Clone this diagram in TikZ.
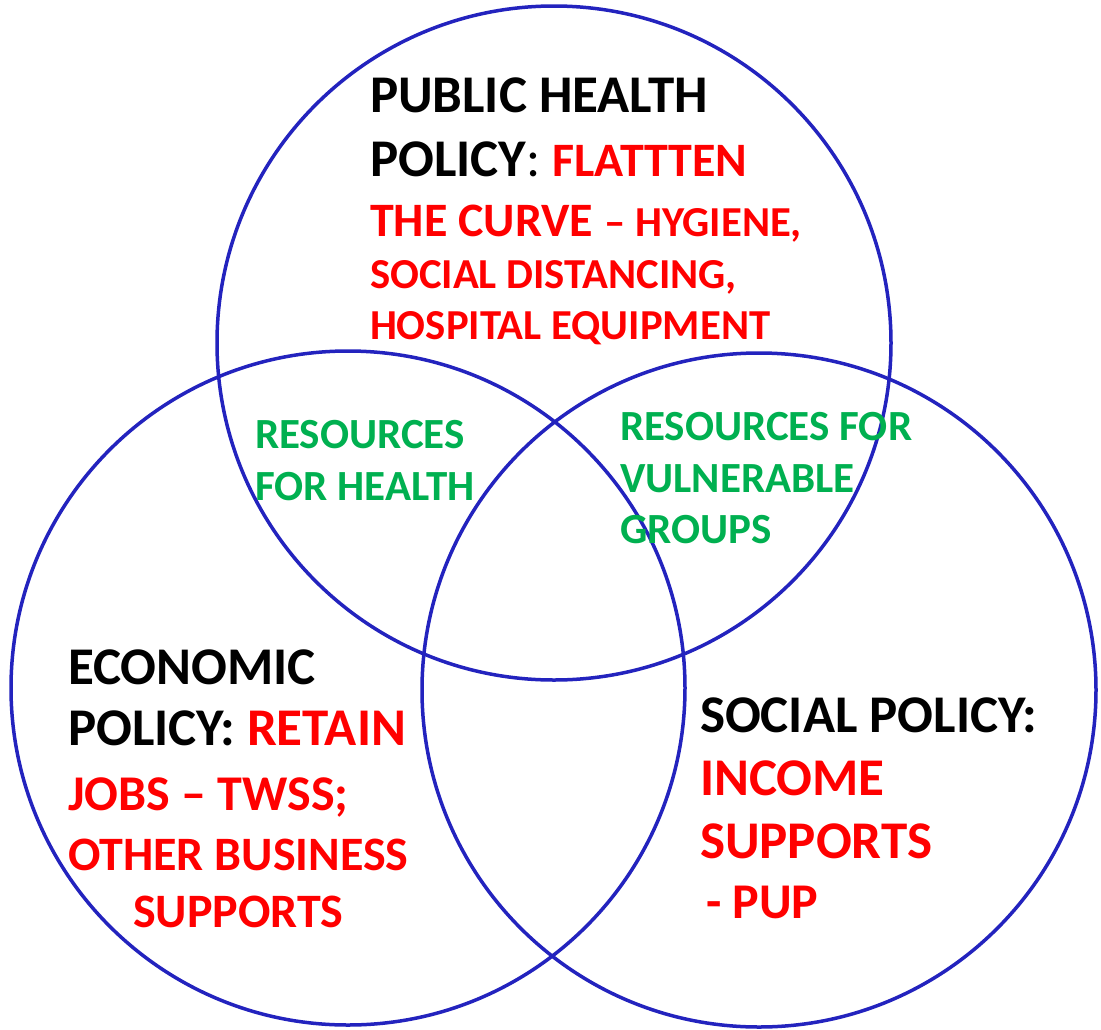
\documentclass[tikz,border=0pt]{standalone}
\usepackage{fontspec}
\setmainfont{Carlito}
\definecolor{vblue}{RGB}{35,35,190}
\definecolor{vred}{RGB}{255,0,0}
\definecolor{vgreen}{RGB}{0,176,80}
\newcommand{\fBig}{\fontsize{53pt}{60pt}\selectfont\bfseries}
\newcommand{\fMid}{\fontsize{48pt}{56pt}\selectfont\bfseries}
\newcommand{\fJob}{\fontsize{50pt}{56pt}\selectfont\bfseries}
\newcommand{\fSml}{\fontsize{42.7pt}{50pt}\selectfont\bfseries}
\newcommand{\fGrn}{\fontsize{43pt}{50pt}\selectfont\bfseries}
\tikzset{
  ring/.style={draw=vblue, line width=3.5pt},
  txt/.style={anchor=base west, inner sep=0pt, outer sep=0pt},
}
\begin{document}
\begin{tikzpicture}[x=1pt,y=-1pt]
\useasboundingbox (0,0) rectangle (1101,1029);
\fill[white] (0,0) rectangle (1101,1029);
\node[ring, circle, minimum size=674pt, inner sep=0pt] (top) at (554,343) {};
\node[ring, circle, minimum size=674pt, inner sep=0pt] (left) at (348,688) {};
\node[ring, circle, minimum size=674pt, inner sep=0pt] (right) at (759,690) {};
% top
\node[txt] (t1) at (370,112) {\fBig PUBLIC HEALTH};
\node[txt] (t2) at (370,176) {\fBig POLICY{\mdseries:} \color{vred}\fMid FLATTTEN};
\node[txt, text=vred] (t3) at (370,236) {\fMid THE CURVE \fSml -- HYGIENE,};
\node[txt, text=vred] (t4) at (370,288) {\fSml SOCIAL DISTANCING,};
\node[txt, text=vred] (t5) at (370,339) {\fSml HOSPITAL EQUIPMENT};
% green
\node[txt, text=vgreen] (g1) at (255,448) {\fGrn RESOURCES};
\node[txt, text=vgreen] (g2) at (255,500) {\fGrn FOR HEALTH};
\node[txt, text=vgreen] (g3) at (620,440) {\fGrn RESOURCES FOR};
\node[txt, text=vgreen] (g4) at (620,492) {\fGrn VULNERABLE};
\node[txt, text=vgreen] (g5) at (620,543) {\fGrn GROUPS};
% left
\node[txt] (l1) at (68,684) {\fBig ECONOMIC};
\node[txt] (l2) at (68,745) {\fBig POLICY: \color{vred}RETAIN};
\node[txt, text=vred] (l3) at (68,810) {\fJob JOBS -- TWSS;};
\node[txt, text=vred] (l4) at (68,870) {\fMid OTHER BUSINESS};
\node[txt, text=vred] (l5) at (133,927) {\fMid SUPPORTS};
% right
\node[txt] (r1) at (700,732) {\fBig SOCIAL POLICY:};
\node[txt, text=vred] (r2) at (700,795) {\fBig INCOME};
\node[txt, text=vred] (r3) at (700,858) {\fBig SUPPORTS};
\node[txt, text=vred] (r4) at (706,918) {\fJob - PUP};
\end{tikzpicture}
\end{document}
